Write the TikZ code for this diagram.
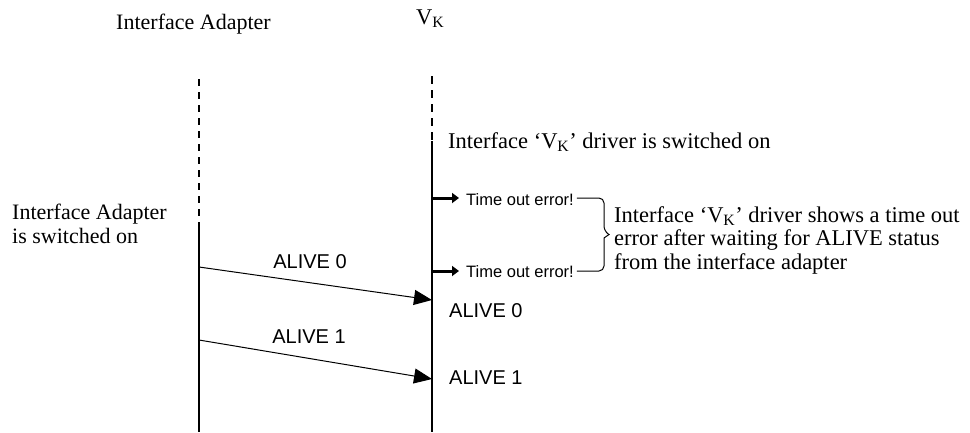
\documentclass[tikz,border=0pt]{standalone}
\usepackage{fontspec}
\setmainfont{Liberation Serif}
\newfontfamily\winsans{Liberation Sans}
\usetikzlibrary{arrows.meta}

\begin{document}
\begin{tikzpicture}[x=1pt,y=-1pt,
    txt/.style={inner sep=0pt, font=\fontsize{22.5}{23.5}\selectfont},
    msgtxt/.style={inner sep=0pt, font=\winsans\fontsize{20}{22}\selectfont},
    errtxt/.style={inner sep=0pt, font=\winsans\fontsize{16.5}{18}\selectfont},
    life/.style={line width=1.3pt},
    msg/.style={line width=1pt, -{Triangle[length=18pt,width=15pt]}},
    errarrow/.style={line width=3pt, -{Triangle[length=7pt,width=10pt]}}]
      \useasboundingbox (0,0) rectangle (970,432);

      % lifelines
      \node (hIA) at (193.5,29) [txt, anchor=base, font=\fontsize{22}{22}\selectfont] {Interface Adapter};
      \node (hVK) at (416,24) [txt, anchor=base west] {V\textsubscript{K}};

      \coordinate (iaTop) at (199,79);
      \coordinate (iaOn) at (199,229);
      \coordinate (iaBot) at (199,432);
      \coordinate (vkTop) at (432,76);
      \coordinate (vkOn) at (432,141);
      \coordinate (vkBot) at (432,432);

      \draw[life, dash pattern=on 7pt off 6pt] (iaTop) to (iaOn);
      \draw[life] (iaOn) to (iaBot);
      \draw[life, dash pattern=on 8pt off 6pt] (vkTop) to (vkOn);
      \draw[life] (vkOn) to (vkBot);

      \node (iaNote) at (12,224) [txt, anchor=west, align=left, font=\fontsize{22}{24}\selectfont]
        {Interface Adapter\\is switched on};
      \node (vkNote) at (448,148) [txt, anchor=base west]
        {Interface ‘V\textsubscript{K}’ driver is switched on};

      % time out errors
      \coordinate (err1s) at (432,198);
      \coordinate (err1e) at (459,198);
      \coordinate (err2s) at (432,271);
      \coordinate (err2e) at (459,271);
      \draw[errarrow] (err1s) to (err1e);
      \draw[errarrow] (err2s) to (err2e);
      \node (err1) at (466,205) [errtxt, anchor=base west] {Time out error!};
      \node (err2) at (466,277) [errtxt, anchor=base west] {Time out error!};

      \draw[line width=1pt, rounded corners=5pt]
      ([xshift=3pt]err1.east |- err1s) -- (604,198) -- (604,231)
      [sharp corners] -- (609,234.5) -- (604,238)
      [rounded corners=5pt] -- (604,271) -- ([xshift=3pt]err2.east |- err2s);

      \node (errNote) at (614,240) [txt, anchor=west, align=left]
        {Interface ‘V\textsubscript{K}’ driver shows a time out\\
         error after waiting for ALIVE status\\
         from the interface adapter};

      % ALIVE messages
      \coordinate (a0s) at (199,267);
      \coordinate (a0e) at (432,300);
      \coordinate (a1s) at (199,340);
      \coordinate (a1e) at (432,379);
      \draw[msg] (a0s) to (a0e);
      \draw[msg] (a1s) to (a1e);
      \node (a0) at (310,268) [msgtxt, anchor=base] {ALIVE 0};
      \node (a1) at (309,343) [msgtxt, anchor=base] {ALIVE 1};
      \node (a0r) at (449,317) [msgtxt, anchor=base west] {ALIVE 0};
      \node (a1r) at (449,384) [msgtxt, anchor=base west] {ALIVE 1};

\end{tikzpicture}
\end{document}
